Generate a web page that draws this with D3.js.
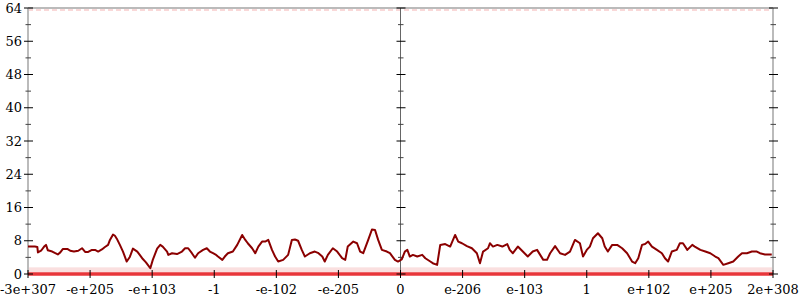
<!DOCTYPE html>
<html>
<head>
<meta charset="utf-8">
<script src="https://cdn.jsdelivr.net/npm/d3@7"></script>
<style>
  body { margin: 0; background: #fff; }
  svg text { font-family: "DejaVu Serif", serif; font-size: 13px; fill: #000; }
</style>
</head>
<body>
<div id="chart"></div>
<script>
// tick labels along the bit-ordered float axis
var xTickLabels = ["-3e+307", "-e+205", "-e+103", "-1", "-e-102", "-e-205", "0",
                   "e-206", "e-103", "1", "e+102", "e+205", "2e+308"];
var yTicks = [0, 8, 16, 24, 32, 40, 48, 56, 64];
var yMinorTicks = [4, 12, 20, 28, 36, 44, 52, 60];

// smoothed curve: [position in tick units, value]
var linePos = [0,0.11,0.15,0.16,0.21,0.26,0.29,0.32,0.39,0.44,0.48,0.52,0.56,0.64,0.68,0.74,0.81,0.87,0.92,0.97,
  1.03,1.08,1.13,1.19,1.24,1.29,1.32,1.37,1.40,1.43,1.48,1.53,1.56,1.59,1.64,1.69,1.76,1.80,1.85,1.90,1.93,1.97,
  2.01,2.08,2.13,2.17,2.24,2.26,2.32,2.40,2.48,2.53,2.58,2.64,2.69,2.74,2.82,2.88,2.93,2.98,
  3.03,3.06,3.13,3.17,3.22,3.30,3.37,3.45,3.50,3.54,3.61,3.66,3.71,3.77,3.82,3.87,3.93,3.98,
  4.03,4.11,4.19,4.25,4.30,4.35,4.41,4.46,4.54,4.62,4.67,4.74,4.78,4.83,4.91,4.98,
  5.06,5.11,5.15,5.24,5.30,5.35,5.40,5.48,5.54,5.59,5.64,5.70,5.78,5.83,5.91,5.96,
  6.02,6.07,6.11,6.15,6.20,6.27,6.35,6.40,6.48,6.52,6.59,6.64,6.72,6.80,6.88,6.93,6.99,
  7.07,7.15,7.23,7.28,7.33,7.41,7.44,7.49,7.56,7.64,7.72,7.76,7.81,7.89,7.97,
  8.05,8.13,8.20,8.25,8.30,8.36,8.41,8.49,8.57,8.65,8.73,8.81,8.89,8.94,
  9.00,9.05,9.10,9.18,9.25,9.29,9.34,9.41,9.49,9.57,9.65,9.73,9.78,9.83,9.89,9.94,9.99,
  10.05,10.13,10.21,10.26,10.31,10.37,10.45,10.50,10.55,10.62,10.70,10.74,10.83,10.91,10.99,
  11.07,11.12,11.20,11.28,11.36,11.44,11.50,11.58,11.66,11.74,11.79,11.87,11.98];
var lineVal = [6.6,6.6,6.5,5.2,5.6,6.6,7.0,5.7,5.4,5.0,4.7,5.2,6.0,6.0,5.6,5.4,5.6,6.2,5.3,5.3,
  5.8,5.8,5.4,5.9,6.5,7.0,8.2,9.5,9.2,8.5,7.0,5.4,4.2,3.0,4.1,6.1,5.4,4.6,3.6,2.8,2.2,1.4,
  3.4,6.1,7.0,6.6,5.4,4.6,5.0,4.8,5.4,6.2,6.2,5.0,3.9,5.0,5.8,6.2,5.4,5.0,
  4.6,4.2,3.4,4.2,5.0,5.4,7.0,9.4,8.2,7.4,6.2,5.0,6.6,7.8,7.8,8.2,5.8,4.2,
  3.0,3.4,4.6,8.2,8.3,8.0,5.8,4.2,5.0,5.4,5.1,4.2,3.0,4.6,6.2,5.4,
  3.8,3.4,6.6,7.8,7.4,5.4,5.0,8.2,10.7,10.6,8.2,5.8,5.4,5.0,3.4,3.0,
  3.5,5.4,5.8,4.2,4.6,4.2,4.6,3.8,3.0,2.6,2.2,7.0,7.2,6.6,9.4,7.8,7.4,
  6.7,6.2,5.0,2.6,5.4,6.2,7.4,6.6,7.0,6.6,7.2,5.8,5.0,6.6,5.4,
  4.2,5.4,5.8,4.6,3.4,3.4,5.0,6.7,5.0,4.6,5.4,8.2,7.4,4.2,
  5.8,6.6,8.6,9.8,8.6,6.6,5.4,7.0,7.0,6.2,5.0,3.0,2.6,3.8,7.0,7.2,7.8,
  6.6,5.8,5.0,3.8,3.0,5.4,5.8,7.4,7.4,5.8,7.0,6.6,5.8,5.4,5.0,
  4.2,3.8,2.2,2.6,3.0,4.2,5.0,5.0,5.4,5.4,5.0,4.7,4.7];

var width = 800, height = 300;
var margin = {left: 28, right: 27, top: 8, bottom: 26};

var svg = d3.select("#chart").append("svg")
  .attr("width", width)
  .attr("height", height);

var x = d3.scaleLinear()
  .domain([0, xTickLabels.length - 1])
  .range([margin.left, width - margin.right]);

var y = d3.scaleLinear()
  .domain([0, 64])
  .range([height - margin.bottom, margin.top]);

var x0 = x(0), x1 = x(xTickLabels.length - 1), xMid = x((xTickLabels.length - 1) / 2);

// faint sample clouds at the bottom and top
svg.append("rect")
  .attr("x", x0).attr("width", x1 - x0)
  .attr("y", y(1.6)).attr("height", y(0.4) - y(1.6))
  .attr("fill", "#f4b8b8").attr("opacity", 0.45);

svg.append("line")
  .attr("x1", x0).attr("x2", x1)
  .attr("y1", y(63.6)).attr("y2", y(63.6))
  .attr("stroke", "#f3a9a9").attr("stroke-width", 2.5)
  .attr("stroke-dasharray", "5,3").attr("opacity", 0.45);

// frame
svg.append("line")
  .attr("x1", x0).attr("x2", x1)
  .attr("y1", y(64)).attr("y2", y(64))
  .attr("stroke", "#bbb").attr("stroke-width", 2);

[x0, x1].forEach(function(px) {
  svg.append("line")
    .attr("x1", px).attr("x2", px)
    .attr("y1", y(64)).attr("y2", y(0))
    .attr("stroke", "#bbb").attr("stroke-width", 2);
});

svg.append("line")
  .attr("x1", xMid).attr("x2", xMid)
  .attr("y1", y(64)).attr("y2", y(0))
  .attr("stroke", "#666").attr("stroke-width", 1);

// zero line (dense samples)
svg.append("line")
  .attr("x1", x0).attr("x2", x1)
  .attr("y1", y(0)).attr("y2", y(0))
  .attr("stroke", "#e8363a").attr("stroke-width", 3.5);

// y ticks on all three verticals
[x0, xMid, x1].forEach(function(px) {
  svg.selectAll(null).data(yTicks).enter().append("line")
    .attr("x1", px - 4).attr("x2", px + 5)
    .attr("y1", function(d) { return y(d); })
    .attr("y2", function(d) { return y(d); })
    .attr("stroke", "#000").attr("stroke-width", 1);
  svg.selectAll(null).data(yMinorTicks).enter().append("line")
    .attr("x1", px - 2.5).attr("x2", px + 3)
    .attr("y1", function(d) { return y(d); })
    .attr("y2", function(d) { return y(d); })
    .attr("stroke", "#444").attr("stroke-width", 1);
});

svg.selectAll("text.ylabel").data(yTicks).enter().append("text")
  .attr("class", "ylabel")
  .attr("x", x0 - 6)
  .attr("y", function(d) { return y(d); })
  .attr("dy", "0.36em")
  .attr("text-anchor", "end")
  .text(function(d) { return d; });

// x ticks
svg.selectAll("line.xtick").data(xTickLabels).enter().append("line")
  .attr("class", "xtick")
  .attr("x1", function(d, i) { return x(i); })
  .attr("x2", function(d, i) { return x(i); })
  .attr("y1", y(0) - 4).attr("y2", y(0) + 4)
  .attr("stroke", "#000").attr("stroke-width", 1);

svg.selectAll("text.xlabel").data(xTickLabels).enter().append("text")
  .attr("class", "xlabel")
  .attr("x", function(d, i) { return x(i); })
  .attr("y", y(0) + 20)
  .attr("text-anchor", "middle")
  .text(function(d) { return d; });

// smoothed curve
var points = linePos.map(function(p, i) { return [p, lineVal[i]]; });
svg.append("path")
  .datum(points)
  .attr("fill", "none")
  .attr("stroke", "#8b0000")
  .attr("stroke-width", 2)
  .attr("stroke-linejoin", "round")
  .attr("d", d3.line()
    .x(function(d) { return x(d[0]); })
    .y(function(d) { return y(d[1]); }));
</script>
</body>
</html>
